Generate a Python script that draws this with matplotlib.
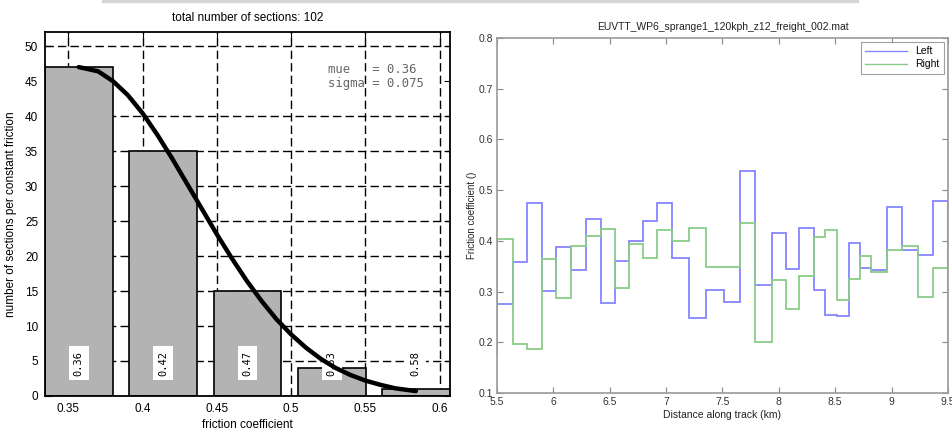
import matplotlib
matplotlib.use('Agg')
import matplotlib.pyplot as plt
from matplotlib.lines import Line2D

plt.rcParams['font.family'] = ['Liberation Sans', 'DejaVu Sans']

# left: sections per friction class
bin_centres = [0.357, 0.4138, 0.4706, 0.5274, 0.584]
counts = [47, 35, 15, 4, 1]
bin_labels = ['0.36', '0.42', '0.47', '0.53', '0.58']
total_sections = 102
mue, sigma = 0.36, 0.075

# fitted curve
fit_x = [0.357, 0.37, 0.38, 0.39, 0.40, 0.41, 0.42, 0.43, 0.44, 0.45, 0.46, 0.47,
         0.48, 0.49, 0.50, 0.51, 0.52, 0.53, 0.54, 0.55, 0.56, 0.57, 0.584]
fit_y = [47.0, 46.4, 45.0, 43.0, 40.4, 37.3, 33.9, 30.3, 26.7, 23.1, 19.7, 16.5,
         13.6, 11.0, 8.8, 6.9, 5.3, 4.0, 3.0, 2.2, 1.6, 1.1, 0.7]

# right: friction along track, section edges in km
km_edges = [5.40, 5.50, 5.639, 5.765, 5.898, 6.022, 6.158, 6.288, 6.420, 6.547, 6.671,
            6.795, 6.922, 7.049, 7.202, 7.355, 7.512, 7.653, 7.792, 7.940, 8.063,
            8.181, 8.308, 8.406, 8.515, 8.618, 8.721, 8.819, 8.957, 9.096, 9.232,
            9.364, 9.497, 9.62]
left_rail = [0.265, 0.276, 0.358, 0.475, 0.301, 0.387, 0.342, 0.443, 0.278, 0.361, 0.400,
             0.440, 0.475, 0.366, 0.248, 0.303, 0.279, 0.537, 0.312, 0.416, 0.344,
             0.426, 0.303, 0.254, 0.252, 0.395, 0.346, 0.343, 0.466, 0.381, 0.373,
             0.478, 0.300]
right_rail = [0.172, 0.403, 0.196, 0.187, 0.365, 0.288, 0.390, 0.410, 0.423, 0.307, 0.393,
              0.367, 0.422, 0.399, 0.426, 0.349, 0.348, 0.435, 0.201, 0.322, 0.265,
              0.331, 0.408, 0.421, 0.284, 0.324, 0.370, 0.338, 0.381, 0.389, 0.290,
              0.346, 0.200]

fig = plt.figure(figsize=(9.52, 4.34), dpi=100)

# faint shadow strip along the top of the screenshot
fig.add_artist(Line2D([0.109, 0.90], [0.997, 0.997], color='#d6d6d6', lw=3,
                      transform=fig.transFigure))

# ---------------- left panel ----------------
ax = fig.add_axes([0.0473, 0.0876, 0.4254, 0.8384])
w = 0.8 * (bin_centres[1] - bin_centres[0])
ax.bar(bin_centres, counts, width=w, color='#b3b3b3', edgecolor='black', lw=1.2, zorder=2)
for xc, lab in zip(bin_centres, bin_labels):
    ax.text(xc, 4.7, lab, rotation=90, ha='center', va='center', fontsize=7.5,
            family='DejaVu Sans Mono', zorder=3,
            bbox=dict(facecolor='white', edgecolor='none', pad=3.5))
ax.plot(fit_x, fit_y, color='black', lw=3.2, zorder=4, solid_capstyle='round')
ax.text(0.5245, 47.6, 'mue   = %.2f\nsigma = %.3f' % (mue, sigma), family='DejaVu Sans Mono',
        fontsize=8.8, color='#666666', va='top', ha='left', linespacing=1.1, zorder=5)

ax.set_xlim(bin_centres[0] - w / 2, 0.607)
ax.set_ylim(0, 52)
ax.set_xticks([0.35, 0.4, 0.45, 0.5, 0.55, 0.6])
ax.set_xticklabels(['0.35', '0.4', '0.45', '0.5', '0.55', '0.6'])
ax.set_yticks(range(0, 51, 5))
ax.set_axisbelow(True)
ax.grid(True, color='black', lw=1, linestyle=(0, (6, 3)))
ax.yaxis.get_gridlines()[9].set_visible(False)
ax.tick_params(direction='in', length=4, top=True, right=True, labelsize=8.5, pad=5)
for s in ax.spines.values():
    s.set_linewidth(1.3)
ax.set_title('total number of sections: %d' % total_sections, fontsize=8.5, pad=8)
ax.set_xlabel('friction coefficient', fontsize=8.5, labelpad=3)
ax.set_ylabel('number of sections per constant friction', fontsize=8.5, labelpad=6)

# ---------------- right panel ----------------
ax2 = fig.add_axes([0.522, 0.0945, 0.4738, 0.8179])
ax2.stairs(left_rail, km_edges, color='#8585ff', lw=1.3, label='Left')
ax2.stairs(right_rail, km_edges, color='#8acb8a', lw=1.3, label='Right')
ax2.set_xlim(5.5, 9.5)
ax2.set_ylim(0.1, 0.8)
ax2.set_xticks([5.5, 6, 6.5, 7, 7.5, 8, 8.5, 9, 9.5])
ax2.set_xticklabels(['5.5', '6', '6.5', '7', '7.5', '8', '8.5', '9', '9.5'])
ax2.set_yticks([0.1, 0.2, 0.3, 0.4, 0.5, 0.6, 0.7, 0.8])
ax2.set_yticklabels(['0.1', '0.2', '0.3', '0.4', '0.5', '0.6', '0.7', '0.8'])
ax2.tick_params(direction='in', length=4, top=True, right=True, labelsize=7.5,
                color='#888888', labelcolor='#333333', pad=3)
for s in ax2.spines.values():
    s.set_color('#999999')
    s.set_linewidth(1.2)
ax2.set_title('EUVTT_WP6_sprange1_120kph_z12_freight_002.mat', fontsize=7.5, pad=6, color='#222222')
ax2.set_xlabel('Distance along track (km)', fontsize=7.5, labelpad=2, color='#222222')
ax2.set_ylabel('Friction coefficient ()', fontsize=7, labelpad=1, color='#222222')
leg = ax2.legend(loc='upper right', fontsize=7.5, fancybox=False, handlelength=4,
                 borderpad=0.4, labelspacing=0.3, borderaxespad=0.4)
leg.get_frame().set_edgecolor('#888888')
leg.get_frame().set_linewidth(0.8)
for h in leg.get_lines():
    h.set_linewidth(1)

fig.savefig('out.png', dpi=100)
